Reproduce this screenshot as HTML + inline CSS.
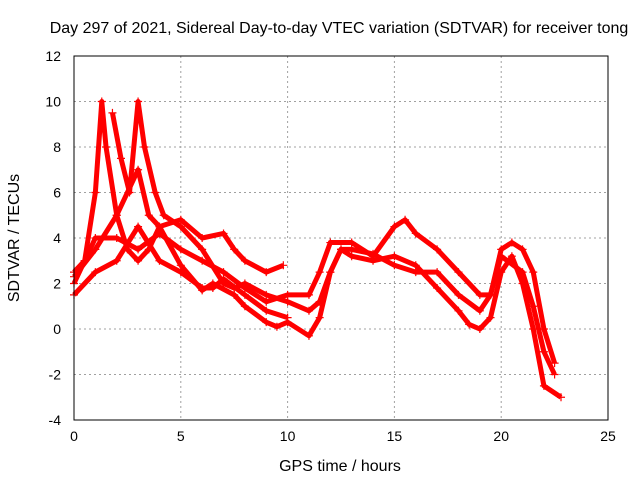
<!DOCTYPE html>
<html><head><meta charset="utf-8"><style>
body{margin:0;background:#fff}
svg text{font-family:"Liberation Sans",sans-serif;font-size:14px;fill:#000}
svg text.big{font-size:16px}
</style></head><body>
<svg id="c" width="640" height="480" xmlns="http://www.w3.org/2000/svg">
<rect width="640" height="480" fill="#fff"/>
<text class="big" x="339" y="33" text-anchor="middle">Day 297 of 2021, Sidereal Day-to-day VTEC variation (SDTVAR) for receiver tong</text>
<text class="big" x="340" y="471" text-anchor="middle">GPS time / hours</text>
<text class="big" transform="translate(19,238) rotate(-90)" text-anchor="middle">SDTVAR / TECUs</text>
<g id="grid"></g><g id="series"></g>
<rect x="74" y="56" width="534" height="364" fill="none" stroke="#000"/>
</svg>
<script>
const xTicks=[0,5,10,15,20,25];
const yTicks=[-4,-2,0,2,4,6,8,10,12];
const s1=[[0,2.5],[0.5,3],[1,6],[1.3,10],[1.5,8],[2,5],[2.5,3.5],[3,3],[3.5,3.5],[4,4.5],[5,4.8],[6,4],[7,4.2],[7.5,3.5],[8,3],[9,2.5],[9.8,2.8]];
const s2=[[1.8,9.5],[2.2,7.5],[2.6,6],[3,10],[3.3,8],[3.8,6],[4.2,5],[5,4.5],[6,3.5],[7,2],[7.5,1.8],[8,2],[9,1.5],[10,1.2],[11,0.8],[11.5,1.2],[12,2.5],[12.5,3.5],[13,3.5],[14,3.3],[15,2.8],[16,2.5],[17,2.5],[18,1.5],[19,0.8],[19.5,1.5],[20,3.5],[20.5,3.8],[21,3.5],[21.5,2.5],[22,0],[22.5,-1.5]];
const s3=[[0,2],[0.5,3],[1,4],[2,4],[3,3.5],[4,4.2],[5,3.5],[6,3],[7,2.5],[8,1.8],[9,1.2],[10,1.5],[11,1.5],[11.5,2.5],[12,3.8],[13,3.8],[14,3.2],[15,4.5],[15.5,4.8],[16,4.2],[17,3.5],[18,2.5],[19,1.5],[19.5,1.5],[20,3.2],[21,2.5],[21.5,1],[22,-1],[22.5,-2]];
const s4=[[0,1.5],[1,2.5],[2,3],[3,4.5],[4,3],[5,2.5],[6,1.8],[6.5,1.8],[7,2.2],[8,1.5],[9,0.8],[10,0.5]];
const s5=[[0,2.3],[1,3.5],[2,5],[3,7],[3.5,5],[4,4.5],[5,2.8],[6,1.7],[6.5,2],[7.5,1.5],[8,1],[9,0.3],[9.5,0.1],[10,0.3],[11,-0.3],[11.5,0.5],[12,2.5],[12.5,3.5],[13,3.2],[14,3],[15,3.2],[16,2.8],[17,1.8],[18,0.8],[18.5,0.2],[19,0],[19.5,0.5],[20,2.5],[20.5,3.2],[21,2],[21.5,0],[22,-2.5],[22.8,-3]];
const allSeries=[s1,s2,s3,s4,s5];
const X=v=>74+v*534/25, Y=v=>420-(v+4)*364/16;
const NS="http://www.w3.org/2000/svg";
function mk(t,a,p){const e=document.createElementNS(NS,t);for(const k in a)e.setAttribute(k,a[k]);p.appendChild(e);return e;}
const g=document.getElementById('grid');
xTicks.forEach(v=>{
 const l=mk('line',{x1:X(v),x2:X(v),y1:56,y2:420,stroke:'#a0a0a0','stroke-dasharray':'2,3'},g);
 
 
 const t=mk('text',{x:X(v),y:441,'text-anchor':'middle'},g);t.textContent=v;
 
 
});
yTicks.forEach(v=>{
 const l=mk('line',{x1:74,x2:608,y1:Y(v),y2:Y(v),stroke:'#a0a0a0','stroke-dasharray':'2,3'},g);
 
 
 const t=mk('text',{x:61,y:Y(v)+5,'text-anchor':'end'},g);t.textContent=v;
 
 
});
const sg=document.getElementById('series');
allSeries.forEach((s,i)=>{
 const p=mk('polyline',{points:s.map(d=>X(d[0])+','+Y(d[1])).join(' '),fill:'none',stroke:'#f00','stroke-width':5,'stroke-linejoin':'round'},sg);
 
 
 s.forEach(d=>{
  const m=mk('path',{d:`M${X(d[0])-4},${Y(d[1])}h8M${X(d[0])},${Y(d[1])-4}v8`,stroke:'#f00','stroke-width':1.2},sg);
  
  
 });
});
</script>
</body></html>
